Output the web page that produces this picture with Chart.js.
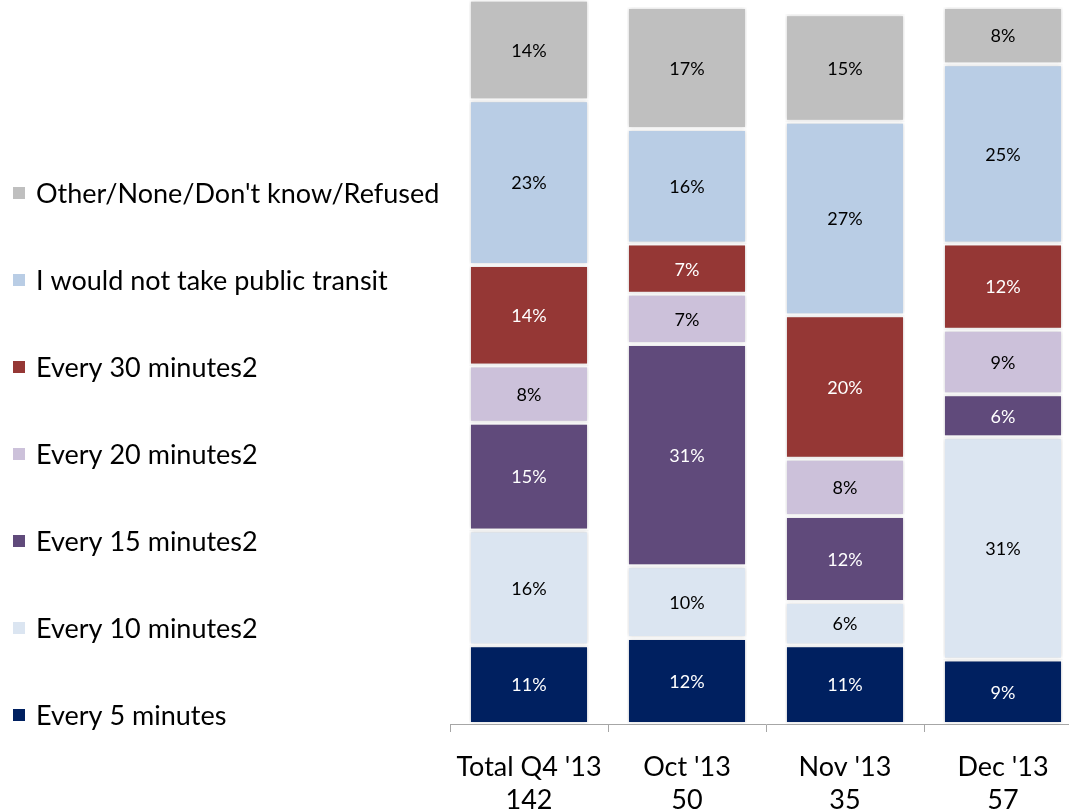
<!DOCTYPE html>
<html>
<head>
<meta charset="utf-8">
<script src="https://cdn.jsdelivr.net/npm/chart.js@4/dist/chart.umd.min.js"></script>
<style>
  html, body { margin: 0; padding: 0; background: #fff; overflow: hidden; }
  #wrap { position: relative; width: 1085px; height: 812px; }
</style>
</head>
<body>
<div id="wrap"><canvas id="myChart"></canvas></div>
<script>
var meses = [["Total Q4 '13", "142"], ["Oct '13", "50"], ["Nov '13", "35"], ["Dec '13", "57"]];

// series, bottom of the stack first
var series = ['Every 5 minutes', 'Every 10 minutes2', 'Every 15 minutes2', 'Every 20 minutes2',
              'Every 30 minutes2', 'I would not take public transit', 'Other/None/Don\'t know/Refused'];
var cada5 = [11, 12, 11, 9];
var cada10 = [16, 10, 6, 31];
var cada15 = [15, 31, 12, 6];
var cada20 = [8, 7, 8, 9];
var cada30 = [14, 7, 20, 12];
var noTransit = [23, 16, 27, 25];
var otros = [14, 17, 15, 8];

var colores = ['#002060', '#DBE5F1', '#604A7B', '#CCC1DA', '#953735', '#B9CDE5', '#BFBFBF'];
var textoBlanco = [true, false, true, false, true, false, false];
var valores = [cada5, cada10, cada15, cada20, cada30, noTransit, otros];

var fuente = 'Lato, "Open Sans", sans-serif';

var datasets = [];
for (var i = 0; i < series.length; i++) {
  datasets.push({
    label: series[i],
    data: valores[i],
    backgroundColor: colores[i],
    borderColor: '#ffffff',
    borderWidth: 2,
    borderSkipped: false,
    categoryPercentage: 0.76,
    barPercentage: 1,
    clip: false
  });
}

// soft shadow behind the bars
var sombra = {
  id: 'sombra',
  beforeDatasetsDraw: function(chart) {
    var ctx = chart.ctx;
    ctx.save();
    ctx.shadowColor = 'rgba(0,0,0,0.18)';
    ctx.shadowBlur = 4;
    ctx.shadowOffsetX = 0;
    ctx.shadowOffsetY = 0;
  },
  afterDatasetsDraw: function(chart) {
    chart.ctx.restore();
  }
};

// percentages inside each segment
var etiquetas = {
  id: 'etiquetas',
  afterDatasetsDraw: function(chart) {
    var ctx = chart.ctx;
    ctx.save();
    ctx.font = '18px ' + fuente;
    ctx.textAlign = 'center';
    ctx.textBaseline = 'middle';
    chart.data.datasets.forEach(function(ds, i) {
      chart.getDatasetMeta(i).data.forEach(function(bar, j) {
        var y = (bar.y + bar.base) / 2;
        ctx.fillStyle = textoBlanco[i] ? '#ffffff' : '#000000';
        ctx.fillText(ds.data[j] + '%', bar.x, y + 1);
      });
    });
    ctx.restore();
  }
};

// legend on the left, top item is the top of the stack
var leyenda = {
  id: 'leyenda',
  afterDraw: function(chart) {
    var ctx = chart.ctx;
    ctx.save();
    ctx.font = '27px ' + fuente;
    ctx.textBaseline = 'middle';
    ctx.textAlign = 'left';
    for (var k = 0; k < series.length; k++) {
      var idx = series.length - 1 - k;
      var y = 193 + k * 87;
      ctx.fillStyle = colores[idx];
      ctx.fillRect(13, y - 6, 12, 12);
      ctx.fillStyle = '#000000';
      ctx.fillText(series[idx], 36, y + 1);
    }
    ctx.restore();
  }
};

var myChart = new Chart(document.getElementById('myChart'), {
  type: 'bar',
  data: { labels: meses, datasets: datasets },
  options: {
    responsive: true,
    maintainAspectRatio: false,
    animation: false,
    layout: { padding: { left: 450, right: 3, top: 7, bottom: 0 } },
    plugins: {
      legend: { display: false },
      tooltip: { enabled: false }
    },
    scales: {
      x: {
        stacked: true,
        afterFit: function(s) { s.height = 88; },
        grid: { display: true, drawOnChartArea: false, tickLength: 8, color: '#A6A6A6', offset: true },
        border: { color: '#A6A6A6', width: 1 },
        ticks: { color: '#000000', font: { family: fuente, size: 27, lineHeight: 1.25 }, padding: 18, maxRotation: 0 }
      },
      y: {
        stacked: true,
        display: false,
        min: 0,
        max: 100
      }
    }
  },
  plugins: [sombra, etiquetas, leyenda]
});
</script>
</body>
</html>
